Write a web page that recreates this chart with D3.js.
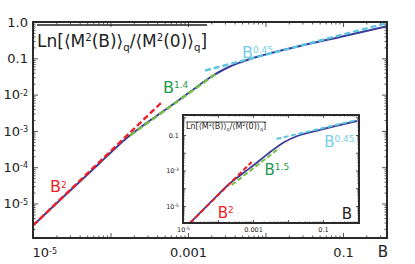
<!DOCTYPE html>
<html>
<head>
<meta charset="utf-8">
<script src="https://cdn.jsdelivr.net/npm/d3@7"></script>
<style>
  body { margin: 0; background: #fff; }
  text { font-family: "DejaVu Sans", Verdana, sans-serif; }
</style>
</head>
<body>
<div id="chart"></div>
<script>
{ // keep scope local

// main curve
const mainB   = [1.0e-5, 2.23e-5, 7.33e-5, 1.14e-4, 1.54e-4, 2.07e-4, 2.79e-4, 3.75e-4, 5.05e-4, 1.06e-3, 1.92e-3, 2.59e-3, 3.48e-3, 4.69e-3, 6.31e-3, 8.49e-3, 0.0114, 0.0279, 0.0914, 0.359];
const mainVal = [2.48e-6, 1.25e-5, 1.33e-4, 3.24e-4, 5.79e-4, 9.62e-4, 1.55e-3, 2.42e-3, 3.77e-3, 0.0118, 0.0296, 0.0433, 0.0594, 0.0766, 0.0957, 0.116, 0.137, 0.218, 0.386, 0.752];

// fitted power laws, [B, value] end points
const mainFitB2   = [[1.0e-5, 2.48e-6], [4.62e-4, 6.25e-3]];
const mainFitB14  = [[1.79e-4, 7.47e-4], [2.37e-3, 0.0394]];
const mainFitB045 = [[1.66e-3, 0.0461], [0.359, 0.920]];

// inset curve
const insetB   = [1.58e-5, 5.85e-5, 2.16e-4, 5.77e-4, 1.54e-3, 3.37e-3, 7.91e-3, 0.0185, 0.0780, 0.937];
const insetVal = [1.10e-6, 1.48e-5, 1.85e-4, 8.24e-4, 3.66e-3, 0.0126, 0.0404, 0.0879, 0.191, 0.615];

const insetFitB2   = [[1.58e-5, 1.10e-6], [9.12e-4, 3.01e-3]];
const insetFitB15  = [[2.47e-4, 1.52e-4], [5.70e-3, 0.0185]];
const insetFitB045 = [[4.68e-3, 0.0596], [0.937, 0.700]];

// tick labels
const mainXTicks  = [1e-5, 1e-3, 0.1];
const mainXLabels = [["10", "-5"], ["0.001", ""], ["0.1", ""]];
const mainYTicks  = [1, 0.1, 1e-2, 1e-3, 1e-4, 1e-5];
const mainYLabels = [["1.0", ""], ["0.1", ""], ["10", "-2"], ["10", "-3"], ["10", "-4"], ["10", "-5"]];
const insetXTicks  = [1e-5, 1e-3, 0.1];
const insetXLabels = [["10", "-5"], ["0.001", ""], ["0.1", ""]];
const insetYTicks  = [0.1, 1e-3, 1e-5];
const insetYLabels = [["0.1", ""], ["10", "-3"], ["10", "-5"]];

// annotation anchors [B, value]
const mainLabelPos  = {b2: [1.66e-5, 2.07e-5], b14: [4.75e-4, 0.0111], b045: [4.98e-3, 0.102]};
const insetLabelPos = {b2: [9.86e-5, 2.11e-6], b15: [2.14e-3, 5.58e-4], b045: [0.108, 0.0211]};

const colors = {
  curve: "#3b3b9b",
  red: "#ec1f27",
  green: "#74bf45",
  greenText: "#1e9a4c",
  cyan: "#5cc5df",
  cyanText: "#78cde6",
  frame: "#2a2a2a"
};

const W = 415, H = 264;
const svg = d3.select("#chart").append("svg")
    .attr("width", W)
    .attr("height", H)
    .attr("viewBox", [0, 0, W, H]);

function decadeTicks(lo, hi) {
  let major = [], minor = [];
  for (let e = Math.floor(Math.log10(lo)); e <= Math.ceil(Math.log10(hi)); e++) {
    for (let m = 1; m < 10; m++) {
      const v = m * Math.pow(10, e);
      if (v < lo * 0.999 || v > hi * 1.001) continue;
      (m === 1 ? major : minor).push(v);
    }
  }
  return {major, minor};
}

function setLabels(sel, labels, supSize) {
  sel.selectAll(".tick text").each(function(d, i) {
    const t = d3.select(this).text("");
    const lab = labels[i];
    t.append("tspan").text(lab[0]);
    if (lab[1]) t.append("tspan").attr("dy", "-0.45em").attr("font-size", supSize).text(lab[1]);
  });
}

function drawPanel(g, o) {
  const x = d3.scaleLog(o.xDomain, [0, o.w]);
  const y = d3.scaleLog(o.yDomain, [o.h, 0]);

  g.append("rect")
      .attr("width", o.w).attr("height", o.h)
      .attr("fill", "#fff");

  const xt = decadeTicks(o.xDomain[0], o.xDomain[1]);
  const yt = decadeTicks(o.yDomain[0], o.yDomain[1]);

  const axes = [
    [d3.axisBottom(x), `translate(0,${o.h})`, xt],
    [d3.axisTop(x), null, xt],
    [d3.axisLeft(y), null, yt],
    [d3.axisRight(y), `translate(${o.w},0)`, yt]
  ];
  axes.forEach(([ax, tr, tk]) => {
    const a = g.append("g").attr("transform", tr);
    a.call(ax.tickValues(tk.major).tickSize(-o.major).tickFormat(""));
    a.append("g").call(ax.tickValues(tk.minor).tickSize(-o.minor).tickFormat(""));
    a.selectAll(".domain").remove();
    a.selectAll("line").attr("stroke", colors.frame).attr("stroke-width", 0.8);
  });

  // labelled ticks
  const xl = g.append("g")
      .attr("transform", `translate(0,${o.h})`)
      .call(d3.axisBottom(x).tickValues(o.xTicks).tickSize(0).tickPadding(o.xPad).tickFormat(() => "x"));
  xl.selectAll(".domain").remove();
  xl.selectAll("text").attr("font-size", o.tickFont).attr("fill", "#222");
  setLabels(xl, o.xLabels, o.supFont);
  if (o.firstXStart) xl.select(".tick text").attr("text-anchor", "start").attr("x", -1);

  const yl = g.append("g")
      .call(d3.axisLeft(y).tickValues(o.yTicks).tickSize(0).tickPadding(o.yPad).tickFormat(() => "y"));
  yl.selectAll(".domain").remove();
  yl.selectAll("text").attr("font-size", o.tickFont).attr("fill", "#222");
  setLabels(yl, o.yLabels, o.supFont);

  const marks = g.append("g");
  const line = d3.line().x(d => x(d[0])).y(d => y(d[1]));

  marks.append("path")
      .datum(d3.zip(o.B, o.V))
      .attr("d", line.curve(d3.curveMonotoneX))
      .attr("fill", "none")
      .attr("stroke", colors.curve)
      .attr("stroke-width", o.lw);

  const flat = d3.line().x(d => x(d[0])).y(d => y(d[1]));
  o.fits.forEach(f => {
    marks.append("path")
        .datum(f.pts)
        .attr("d", flat)
        .attr("fill", "none")
        .attr("stroke", f.color)
        .attr("stroke-width", o.dw)
        .attr("stroke-dasharray", o.dash);
  });

  o.labels.forEach(l => {
    const t = g.append("text")
        .attr("x", x(l.pos[0]))
        .attr("y", y(l.pos[1]))
        .attr("font-size", o.labFont)
        .attr("fill", l.color);
    t.append("tspan").text("B");
    t.append("tspan").attr("dy", "-0.5em").attr("font-size", o.labSup).text(l.sup);
  });

  // frame
  g.append("rect")
      .attr("width", o.w).attr("height", o.h)
      .attr("fill", "none")
      .attr("stroke", colors.frame)
      .attr("stroke-width", o.frameW);

  // B axis label
  g.append("text")
      .attr("x", o.w + o.bDx)
      .attr("y", o.h + o.bDy)
      .attr("text-anchor", "middle")
      .attr("font-size", o.bFont)
      .attr("fill", "#222")
      .text("B");

  // title with overline
  const tt = g.append("text")
      .attr("x", o.titleX)
      .attr("y", o.titleY)
      .attr("font-size", o.titleFont)
      .attr("fill", "#222");
  const sub = o.titleFont * 0.6;
  tt.append("tspan").text("Ln[⟨M");
  tt.append("tspan").attr("dy", -o.titleFont * 0.35).attr("font-size", sub).text("2");
  tt.append("tspan").attr("dy", o.titleFont * 0.35).text("(B)⟩");
  tt.append("tspan").attr("dy", o.titleFont * 0.25).attr("font-size", sub).text("q");
  tt.append("tspan").attr("dy", -o.titleFont * 0.25).text("/⟨M");
  tt.append("tspan").attr("dy", -o.titleFont * 0.35).attr("font-size", sub).text("2");
  tt.append("tspan").attr("dy", o.titleFont * 0.35).text("(0)⟩");
  tt.append("tspan").attr("dy", o.titleFont * 0.25).attr("font-size", sub).text("q");
  tt.append("tspan").attr("dy", -o.titleFont * 0.25).text("]");
  const bb = tt.node().getBBox();
  g.append("line")
      .attr("x1", bb.x).attr("x2", bb.x + bb.width)
      .attr("y1", o.overY).attr("y2", o.overY)
      .attr("stroke", "#222")
      .attr("stroke-width", o.overW);
}

// main panel
const main = svg.append("g").attr("transform", "translate(33,22)");
drawPanel(main, {
  w: 354, h: 216,
  xDomain: [1e-5, 0.37], yDomain: [Math.pow(10, -5.95), 1],
  major: 5, minor: 2.5,
  xTicks: mainXTicks, xLabels: mainXLabels, yTicks: mainYTicks, yLabels: mainYLabels,
  xPad: 10, yPad: 5, tickFont: 13, supFont: 8, firstXStart: true,
  B: mainB, V: mainVal, lw: 2, dw: 2.4, dash: "6,3",
  fits: [
    {pts: mainFitB2, color: colors.red},
    {pts: mainFitB14, color: colors.green},
    {pts: mainFitB045, color: colors.cyan}
  ],
  labels: [
    {pos: mainLabelPos.b2, color: colors.red, sup: "2"},
    {pos: mainLabelPos.b14, color: colors.greenText, sup: "1.4"},
    {pos: mainLabelPos.b045, color: colors.cyanText, sup: "0.45"}
  ],
  labFont: 16, labSup: 9, frameW: 2,
  bDx: -4, bDy: 19, bFont: 15,
  titleX: 4, titleY: 25, titleFont: 17, overY: 3, overW: 1.5
});

// inset panel
const inset = svg.append("g").attr("transform", "translate(183,115)");
drawPanel(inset, {
  w: 176, h: 108,
  xDomain: [1e-5, 1.07], yDomain: [Math.pow(10, -5.96), Math.pow(10, 0.127)],
  major: 3, minor: 1.5,
  xTicks: insetXTicks, xLabels: insetXLabels, yTicks: insetYTicks, yLabels: insetYLabels,
  xPad: 4, yPad: 4, tickFont: 6.5, supFont: 4.5, firstXStart: false,
  B: insetB, V: insetVal, lw: 1.8, dw: 2, dash: "5,2.5",
  fits: [
    {pts: insetFitB2, color: colors.red},
    {pts: insetFitB15, color: colors.green},
    {pts: insetFitB045, color: colors.cyan}
  ],
  labels: [
    {pos: insetLabelPos.b2, color: colors.red, sup: "2"},
    {pos: insetLabelPos.b15, color: colors.greenText, sup: "1.5"},
    {pos: insetLabelPos.b045, color: colors.cyanText, sup: "0.45"}
  ],
  labFont: 15, labSup: 9, frameW: 2,
  bDx: -12, bDy: -4, bFont: 15,
  titleX: 3, titleY: 14, titleFont: 8, overY: 7, overW: 0.8
});

}
</script>
</body>
</html>
